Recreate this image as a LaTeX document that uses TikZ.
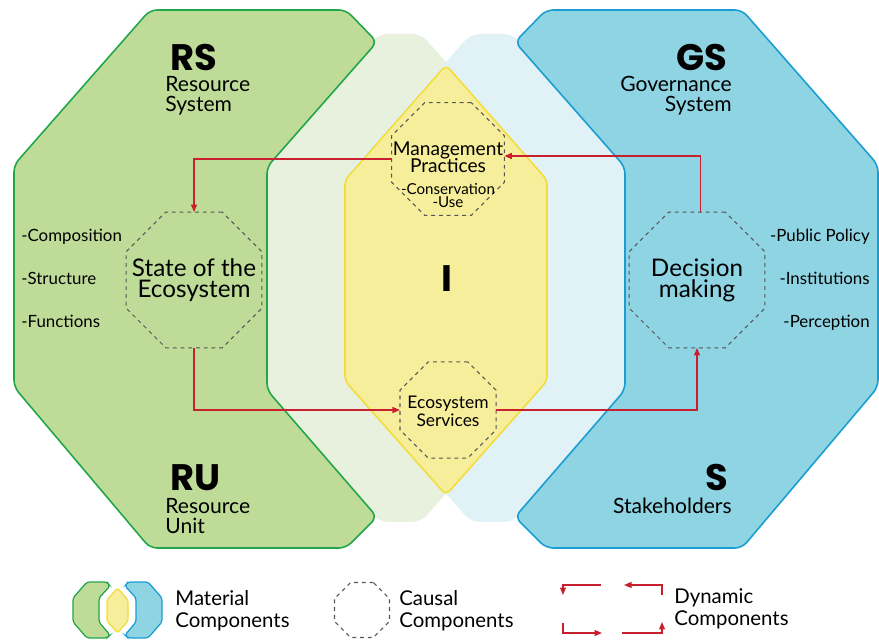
\documentclass[tikz,border=0pt]{standalone}
\usepackage{fontspec}
\setmainfont{Lato}
\newfontfamily\headfont{Poppins}
\usetikzlibrary{shapes.geometric,arrows.meta}
\definecolor{rsfill}{HTML}{BEDC98}
\definecolor{rsline}{HTML}{22A64A}
\definecolor{gsfill}{HTML}{8ED4E3}
\definecolor{gsline}{HTML}{1A9DD2}
\definecolor{ifill}{HTML}{F6EE9B}
\definecolor{iline}{HTML}{F4DC3A}
\definecolor{palegreen}{HTML}{E8F1DE}
\definecolor{paleblue}{HTML}{E1F2F7}
\definecolor{dynred}{HTML}{C8202E}
\definecolor{causalgray}{HTML}{555555}
\tikzset{
  material/.style={line width=0.9pt, rounded corners=4pt},
  causal/.style={draw=causalgray, dash pattern=on 2.2pt off 2.2pt, line width=0.6pt,
    regular polygon, regular polygon sides=8, inner sep=0pt, outer sep=0pt},
  dynamic/.style={draw=dynred, line width=0.7pt, -{Triangle[length=1.5mm,width=1.2mm]}},
  letter/.style={font=\headfont\bfseries\fontsize{21}{21}\selectfont, inner sep=0pt},
  syslabel/.style={font=\fontsize{12}{11.3}\selectfont, inner sep=0pt},
  listitem/.style={font=\fontsize{9.6}{9.6}\selectfont, inner sep=0pt},
  keytext/.style={font=\fontsize{11.6}{12.4}\selectfont, inner sep=0pt, align=left, anchor=north west}
}
\begin{document}
\begin{tikzpicture}[x=0.02cm,y=-0.02cm]
\useasboundingbox (0,0) rectangle (879,641);
\fill[palegreen, rounded corners=5pt] (379,34) -- (421,34) -- (544,172) -- (544,383) -- (421,522) -- (379,522) -- (267,390) -- (267,167) -- cycle;
\fill[paleblue, rounded corners=5pt] (513,34) -- (471,34) -- (348,172) -- (348,383) -- (471,522) -- (513,522) -- (625,390) -- (625,167) -- cycle;
\draw[material, draw=iline, fill=ifill, rounded corners=3pt] (446,65) -- (547,180) -- (547,381) -- (446,495) -- (345,381) -- (345,180) -- cycle;
\draw[material, draw=rsline, fill=rsfill] (150,10) -- (346,10) -- (377,42) -- (267,167) -- (267,390) -- (377,517) -- (346,548) -- (150,548) -- (14,387) -- (14,165) -- cycle;
\draw[material, draw=gsline, fill=gsfill] (742,10) -- (546,10) -- (515,42) -- (625,167) -- (625,390) -- (515,517) -- (546,548) -- (742,548) -- (878,387) -- (878,165) -- cycle;

\node[letter, anchor=base west] (rs) at (170,71) {RS};
\node[syslabel, align=left, anchor=north west] (rsname) at (165,76) {Resource\\System};
\node[letter, anchor=base west] (ru) at (170,491) {RU};
\node[syslabel, align=left, anchor=north west] (runame) at (165,498) {Resource\\Unit};
\node[letter, anchor=base east] (gs) at (728,71) {GS};
\node[syslabel, align=right, anchor=north east] (gsname) at (732,76) {Governance\\System};
\node[letter, anchor=base east] (s) at (729,491) {S};
\node[syslabel, anchor=north east] (sname) at (732,498) {Stakeholders};
\node[letter] (i) at (447,279) {I};

\node[listitem, anchor=base west] (comp) at (21,242) {-Composition};
\node[listitem, anchor=base west] (struct) at (21,285) {-Structure};
\node[listitem, anchor=base west] (func) at (21,328) {-Functions};
\node[listitem, anchor=base east] (policy) at (870,242) {-Public Policy};
\node[listitem, anchor=base east] (inst) at (870,285) {-Institutions};
\node[listitem, anchor=base east] (perc) at (870,328) {-Perception};

\node[causal, minimum size=2.44cm] (mgmt) at (448,159) {};
\node[causal, minimum size=2.94cm] (state) at (194,280) {};
\node[causal, minimum size=2.94cm] (decision) at (697,280) {};
\node[causal, minimum size=2.08cm] (services) at (448,410) {};

\node[font=\fontsize{10.9}{10}\selectfont, inner sep=0pt, align=center, anchor=north] (mgmttext) at (448,141) {Management\\Practices};
\node[font=\fontsize{8.6}{7.3}\selectfont, inner sep=0pt, align=center, anchor=north] (usetext) at (448,183) {-Conservation\\-Use};
\node[font=\fontsize{13.8}{12}\selectfont, inner sep=0pt, align=center] (statetext) at (state) {State of the\\Ecosystem};
\node[font=\fontsize{13.8}{12}\selectfont, inner sep=0pt, align=center] (decisiontext) at (decision) {Decision\\making};
\node[font=\fontsize{9.9}{10.2}\selectfont, inner sep=0pt, align=center, anchor=north] (servicestext) at (448,396) {Ecosystem\\Services};

\draw[dynamic] (mgmt.west) -| (state.north);
\draw[dynamic] (state.south) |- (services.west);
\draw[dynamic] (services.east) -| (decision.south);
\draw[dynamic] ([xshift=2pt]decision.north) |- ([yshift=1.7pt]mgmt.east);

% legend
\draw[draw=rsline, fill=rsfill, line width=0.7pt, rounded corners=1.5pt] (87,582) -- (107,582) -- (110,586) -- (99,598) -- (99,622) -- (110,635) -- (107,638) -- (87,638) -- (73,622) -- (73,598) -- cycle;
\draw[draw=iline, fill=ifill, line width=0.7pt, rounded corners=1pt] (117.5,588) -- (128,600) -- (128,621) -- (117.5,633) -- (107,621) -- (107,600) -- cycle;
\draw[draw=gsline, fill=gsfill, line width=0.7pt, rounded corners=1.5pt] (148,582) -- (128,582) -- (125,586) -- (136,598) -- (136,622) -- (125,635) -- (128,638) -- (148,638) -- (162,622) -- (162,598) -- cycle;
\node[keytext] (materialkey) at (175,590) {Material\\Components};
\node[causal, minimum size=1.19cm] (causalicon) at (362,610) {};
\node[keytext] (causalkey) at (399,590) {Causal\\Components};
\draw[dynamic] (601,585) -- ++(-38,0) -- ++(0,10);
\draw[dynamic] (662,595) -- ++(0,-10) -- ++(-38,0);
\draw[dynamic] (563,623) -- ++(0,10) -- ++(39,0);
\draw[dynamic] (622,633) -- ++(40,0) -- ++(0,-11);
\node[keytext] (dynamickey) at (674,588) {Dynamic\\Components};
\end{tikzpicture}
\end{document}
